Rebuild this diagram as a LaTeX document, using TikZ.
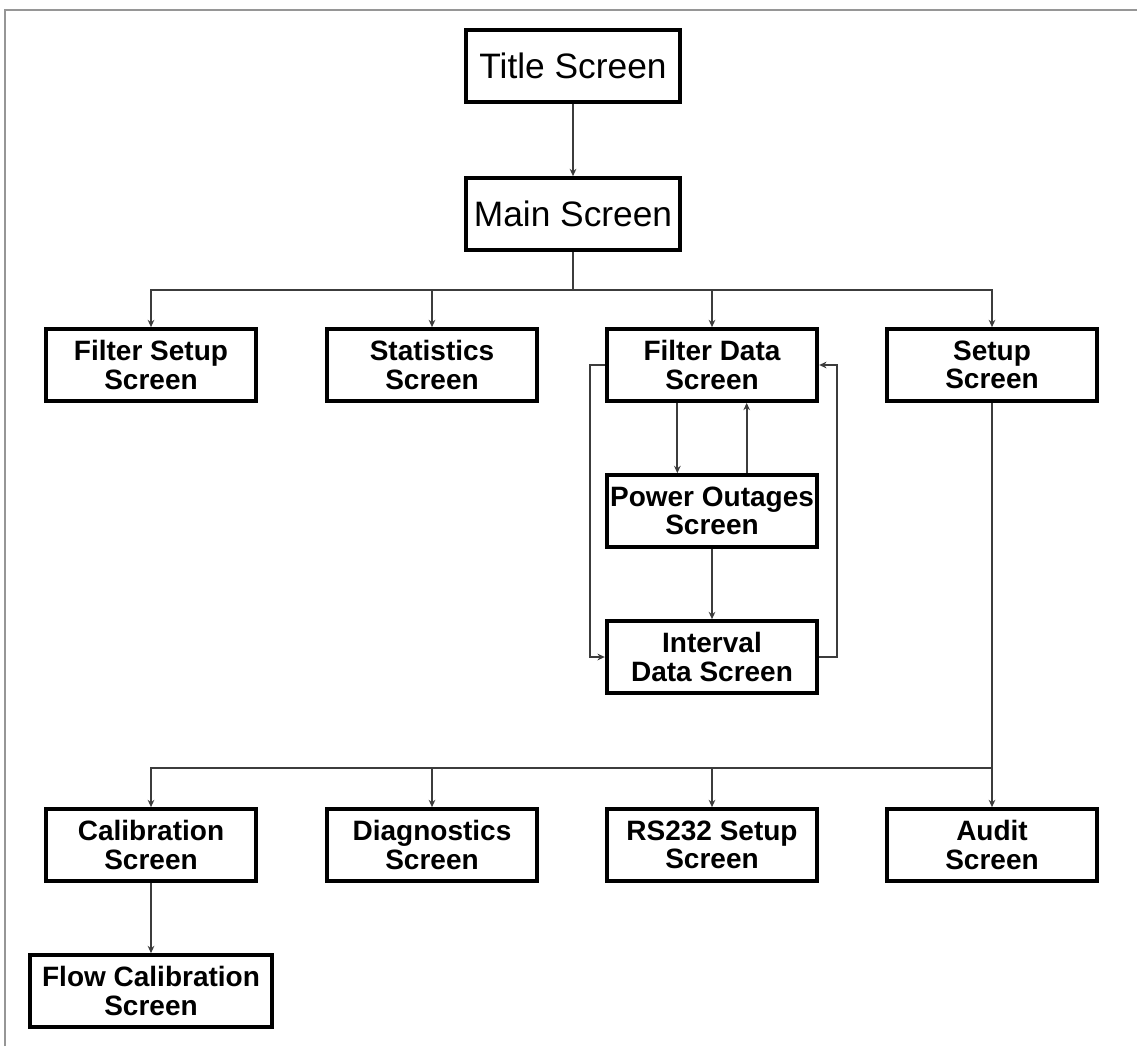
\documentclass[tikz,border=0pt]{standalone}
\usepackage{fontspec}
\setmainfont{Liberation Sans}
\usetikzlibrary{arrows.meta}

\tikzset{every picture/.style={line width=0.75pt}}
\tikzset{
  screen/.style={draw=black, line width=2.8pt, fill=white, align=center, inner sep=0pt,
    minimum width=158pt, minimum height=54pt, font=\bfseries\fontsize{21}{21.5}\selectfont},
  bigscreen/.style={screen, minimum width=160pt, font=\fontsize{26.5}{30}\selectfont},
  link/.style={draw={rgb,255:red,60;green,60;blue,60}, line width=1.4pt},
  arrow/.style={link, -{Stealth[length=5.5pt,width=5pt]}},
}

\begin{document}
\begin{tikzpicture}[x=0.75pt,y=0.75pt,yscale=-1,xscale=1]
\useasboundingbox (0,0) rectangle (1137,1046);

%Frame
\draw [color={rgb, 255:red, 150; green, 150; blue, 150 }, line width=2.2pt] (5,1046) -- (5,10) -- (1137,10) ;

%Top boxes
\node [bigscreen] (title) at (573,66) {Title Screen};
\node [bigscreen] (main) at (573,214) {Main Screen};

%First row
\node [screen] (fsetup) at (151,365) {Filter Setup\\Screen};
\node [screen] (stats) at (432,365) {Statistics\\Screen};
\node [screen] (fdata) at (712,365) {Filter Data\\Screen};
\node [screen] (setup) at (992,365) {Setup\\Screen};

%Filter data branch
\node [screen] (power) at (712,511) {Power Outages\\Screen};
\node [screen] (interval) at (712,657) {Interval\\Data Screen};

%Setup row
\node [screen] (calib) at (151,845) {Calibration\\Screen};
\node [screen] (diag) at (432,845) {Diagnostics\\Screen};
\node [screen] (rs232) at (712,845) {RS232 Setup\\Screen};
\node [screen] (audit) at (992,845) {Audit\\Screen};
\node [screen, minimum width=182pt] (flow) at (151,991) {Flow Calibration\\Screen};

%Buses
\coordinate (busmain) at (573,290);
\coordinate (bussetup) at (992,768);

%Connectors
\draw [arrow] (title) -- (main);
\draw [link] (main) -- (busmain);
\foreach \n in {fsetup,stats,fdata,setup}
  \draw [arrow] (busmain) -| (\n);
\draw [link] (setup) -- (bussetup);
\foreach \n in {calib,diag,rs232,audit}
  \draw [arrow] (bussetup) -| (\n);
\draw [arrow] (calib) -- (flow);

\draw [arrow] ([xshift=-26pt]fdata.south) -- ([xshift=-26pt]power.north);
\draw [arrow] ([xshift=26pt]power.north) -- ([xshift=26pt]fdata.south);
\draw [arrow] (power) -- (interval);
\draw [arrow] (fdata.west) -- ++(-15,0) |- (interval.west);
\draw [arrow] (interval.east) -- ++(18,0) |- (fdata.east);

\end{tikzpicture}
\end{document}
